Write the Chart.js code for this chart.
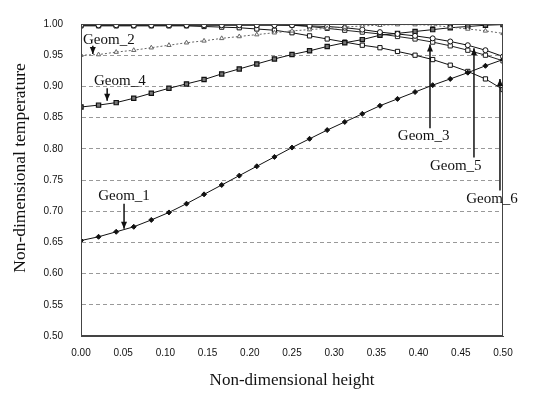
<!DOCTYPE html>
<html>
<head>
<meta charset="utf-8">
<script src="https://cdn.jsdelivr.net/npm/chart.js@4.4.1/dist/chart.umd.min.js"></script>
<style>
  html, body { margin: 0; padding: 0; background: #fff; }
</style>
</head>
<body>
<canvas id="myChart" width="547" height="396"></canvas>
<script>
// x values (non-dimensional height), 25 points
const heights = [0.0000, 0.0208, 0.0417, 0.0625, 0.0833, 0.1042, 0.1250, 0.1458, 0.1667, 0.1875,
  0.2083, 0.2292, 0.2500, 0.2708, 0.2917, 0.3125, 0.3333, 0.3542, 0.3750, 0.3958,
  0.4167, 0.4375, 0.4583, 0.4792, 0.5000];

// series (non-dimensional temperature)
const geom1 = [0.653, 0.659, 0.667, 0.675, 0.686, 0.698, 0.712, 0.727, 0.742, 0.757,
  0.772, 0.787, 0.802, 0.816, 0.830, 0.843, 0.856, 0.869, 0.880, 0.891,
  0.902, 0.912, 0.922, 0.933, 0.943];
const geom2 = [0.950, 0.951, 0.955, 0.958, 0.962, 0.966, 0.970, 0.973, 0.977, 0.980,
  0.983, 0.986, 0.989, 0.991, 0.993, 0.995, 0.997, 0.998, 0.999, 0.999,
  0.998, 0.995, 0.992, 0.989, 0.985];
const geom3 = [0.998, 0.998, 0.998, 0.998, 0.998, 0.998, 0.998, 0.998, 0.998, 0.998,
  0.998, 0.998, 0.998, 0.997, 0.996, 0.994, 0.991, 0.987, 0.984, 0.981,
  0.977, 0.972, 0.966, 0.958, 0.948];
const geom4 = [0.867, 0.870, 0.874, 0.881, 0.889, 0.897, 0.904, 0.911, 0.920, 0.928,
  0.936, 0.944, 0.951, 0.957, 0.964, 0.970, 0.975, 0.982, 0.985, 0.988,
  0.991, 0.994, 0.996, 0.998, 0.999];
const geom5 = [0.999, 0.999, 0.999, 0.999, 0.999, 0.999, 0.999, 0.999, 0.999, 0.999,
  0.999, 0.999, 0.998, 0.996, 0.993, 0.990, 0.987, 0.984, 0.980, 0.976,
  0.971, 0.965, 0.958, 0.950, 0.941];
const geom6 = [0.997, 0.997, 0.997, 0.997, 0.997, 0.997, 0.997, 0.996, 0.995, 0.994,
  0.992, 0.990, 0.986, 0.981, 0.976, 0.971, 0.966, 0.962, 0.956, 0.950,
  0.943, 0.934, 0.924, 0.912, 0.895];

// labels with arrows: text position, arrow x, arrow from -> to (data units)
const noteNames = ['Geom_2', 'Geom_4', 'Geom_1', 'Geom_3', 'Geom_5', 'Geom_6'];
const noteText = [[0.033, 0.975], [0.046, 0.908], [0.051, 0.725], [0.406, 0.821], [0.444, 0.772], [0.487, 0.719]];
const noteArrow = [[0.014, 0.965, 0.952], [0.031, 0.897, 0.877], [0.051, 0.712, 0.672],
  [0.4135, 0.833, 0.967], [0.4656, 0.786, 0.961], [0.4964, 0.733, 0.912]];

function pts(arr) {
  return arr.map((v, i) => ({ x: heights[i], y: v }));
}

// рамка вокруг области графика + подписи со стрелками + заголовок оси Y
const boxAndNotes = {
  id: 'boxAndNotes',
  afterDatasetsDraw(chart) {
    const c = chart.ctx, a = chart.chartArea;
    const xs = chart.scales.x, ys = chart.scales.y;
    c.save();
    c.strokeStyle = '#444';
    c.lineWidth = 1;
    c.strokeRect(a.left + 0.5, a.top + 0.5, a.right - a.left - 1, a.bottom - a.top - 1);

    c.fillStyle = '#111';
    c.strokeStyle = '#111';
    c.font = '15px "Liberation Serif", "Times New Roman", serif';
    c.textAlign = 'center';
    c.textBaseline = 'middle';
    for (let i = 0; i < noteNames.length; i++) {
      c.fillText(noteNames[i], xs.getPixelForValue(noteText[i][0]), ys.getPixelForValue(noteText[i][1]));
      let ax = xs.getPixelForValue(noteArrow[i][0]);
      let y1 = ys.getPixelForValue(noteArrow[i][1]);
      let y2 = ys.getPixelForValue(noteArrow[i][2]);
      c.lineWidth = 1.5;
      c.beginPath();
      c.moveTo(ax, y1);
      c.lineTo(ax, y2);
      c.stroke();
      let dir = y2 > y1 ? 1 : -1;
      c.beginPath();
      c.moveTo(ax, y2);
      c.lineTo(ax - 3, y2 - dir * 7);
      c.lineTo(ax + 3, y2 - dir * 7);
      c.closePath();
      c.fill();
    }

    // y title, a bit above the middle like in the original
    c.translate(20, 168);
    c.rotate(-Math.PI / 2);
    c.font = '17.5px "Liberation Serif", "Times New Roman", serif';
    c.fillText('Non-dimensional temperature', 0, 0);
    c.restore();
  }
};

const ctx = document.getElementById('myChart').getContext('2d');
const myChart = new Chart(ctx, {
  type: 'line',
  data: {
    datasets: [
      { label: 'Geom_1', data: pts(geom1), borderColor: '#111', backgroundColor: '#111', borderWidth: 1,
        pointStyle: 'rectRot', pointRadius: 2.5, pointBorderWidth: 1 },
      { label: 'Geom_2', data: pts(geom2), borderColor: '#666', backgroundColor: '#fff', borderWidth: 1,
        borderDash: [2, 2], pointStyle: 'triangle', pointRadius: 2.5, pointBorderWidth: 1 },
      { label: 'Geom_3', data: pts(geom3), borderColor: '#111', backgroundColor: '#fff', borderWidth: 1,
        pointStyle: 'circle', pointRadius: 2.5, pointBorderWidth: 1 },
      { label: 'Geom_4', data: pts(geom4), borderColor: '#111', backgroundColor: '#777', borderWidth: 1,
        pointStyle: 'rect', pointRadius: 3, pointBorderWidth: 1.2 },
      { label: 'Geom_5', data: pts(geom5), borderColor: '#222', backgroundColor: '#fff', borderWidth: 1,
        pointStyle: 'rect', pointRadius: 3, pointBorderWidth: 1 },
      { label: 'Geom_6', data: pts(geom6), borderColor: '#111', backgroundColor: '#fff', borderWidth: 1,
        pointStyle: 'rect', pointRadius: 3, pointBorderWidth: 1 }
    ]
  },
  options: {
    responsive: false,
    animation: false,
    devicePixelRatio: 1,
    layout: { padding: { left: 0, right: 44, top: 16, bottom: 0 } },
    plugins: { legend: { display: false }, tooltip: { enabled: false } },
    elements: { line: { tension: 0 } },
    scales: {
      x: {
        type: 'linear', min: 0, max: 0.5,
        afterFit: s => { s.height = 60; },
        grid: { display: false, drawTicks: false },
        border: { display: true, color: '#444' },
        ticks: { stepSize: 0.05, padding: 11, color: '#111', maxRotation: 0,
          font: { family: '"Liberation Sans", Arial, sans-serif', size: 10 },
          callback: v => v.toFixed(2) },
        title: { display: true, text: 'Non-dimensional height', color: '#111',
          font: { family: '"Liberation Serif", "Times New Roman", serif', size: 17 },
          padding: { top: 0, bottom: 5 } }
      },
      y: {
        min: 0.5, max: 1.0,
        afterFit: s => { s.width = 81; },
        grid: { color: '#999', lineWidth: 1, drawTicks: false },
        border: { display: true, color: '#444', dash: [4, 3] },
        ticks: { stepSize: 0.05, padding: 18, color: '#111',
          font: { family: '"Liberation Sans", Arial, sans-serif', size: 10 },
          callback: v => v.toFixed(2) }
      }
    }
  },
  plugins: [boxAndNotes]
});
</script>
</body>
</html>
